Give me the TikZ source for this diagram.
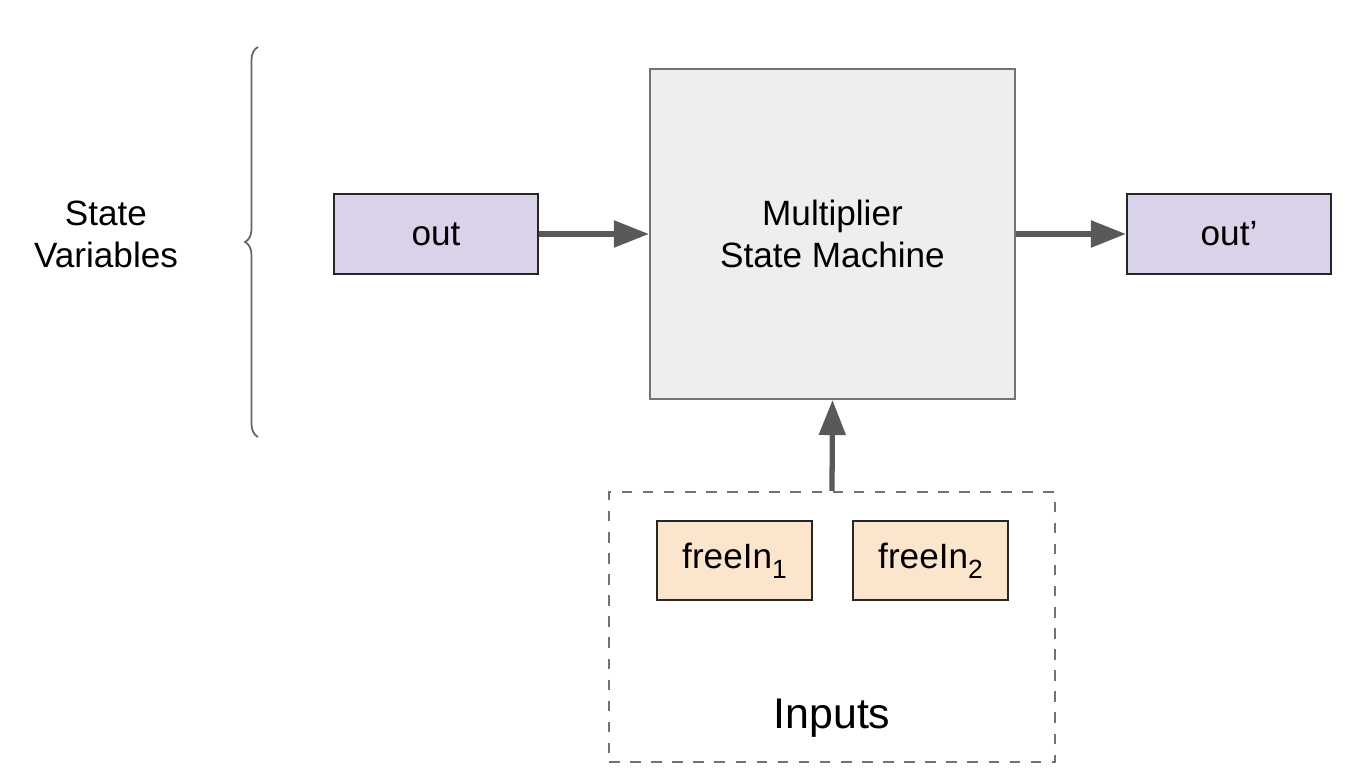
\documentclass[tikz,border=0pt]{standalone}
\usepackage{fontspec}
\setmainfont{Liberation Sans}
\usetikzlibrary{arrows.meta,decorations.pathreplacing}

\definecolor{varfill}{HTML}{D9D2E9}
\definecolor{infill}{HTML}{FCE5CD}
\definecolor{machfill}{HTML}{EEEEEE}
\definecolor{arrgray}{HTML}{595959}

\newcommand{\lowsub}[1]{\raisebox{-0.55ex}{\fontsize{7.5}{8}\selectfont #1}}

\begin{document}
\begin{tikzpicture}[
    varbox/.style={draw=black!85, line width=0.6pt, fill=varfill, minimum width=2.04cm, minimum height=0.8cm, inner sep=0pt, font=\fontsize{10}{12}\selectfont},
    inbox/.style={draw=black!85, line width=0.6pt, fill=infill, minimum width=1.55cm, minimum height=0.79cm, inner sep=0pt, font=\fontsize{10}{12}\selectfont},
    flow/.style={draw=arrgray, line width=1.5pt, -{Triangle[length=3.5mm,width=2.6mm]}}
]
    \useasboundingbox (0,0) rectangle (13.5,-7.77);

    % Maquina de estados
    \node[draw=black!55, line width=0.6pt, fill=machfill, minimum width=3.65cm, minimum height=3.3cm, inner sep=0pt,
          align=center, font=\fontsize{10}{12}\selectfont] (machine) at (8.325,-2.34) {Multiplier\\State Machine};

    % Variables de estado
    \node[varbox] (out) at (4.36,-2.34) {out};
    \node[varbox] (outp) at (12.29,-2.34) {out’};

    % Entradas
    \node[draw=black!55, dashed, line width=0.6pt, minimum width=4.46cm, minimum height=2.7cm, inner sep=0pt] (inputs) at (8.32,-6.27) {};
    \node[inbox] (free1) at (7.345,-5.605) {freeIn\lowsub{1}};
    \node[inbox] (free2) at (9.305,-5.605) {freeIn\lowsub{2}};
    \node[font=\fontsize{12.2}{14}\selectfont] (inlabel) at (8.32,-7.18) {Inputs};

    % Flechas
    \draw[flow] (out) -- (machine);
    \draw[flow] (machine) -- (outp);
    \draw[flow] (inputs.north) -- (machine.south);

    % Llave y etiqueta
    \draw[black!60, line width=0.5pt, decorate, decoration={brace, amplitude=0.13cm}] (2.58,-4.37) -- (2.58,-0.47);
    \node[align=center, font=\fontsize{10}{12}\selectfont] (statevars) at (1.06,-2.34) {State\\Variables};
\end{tikzpicture}
\end{document}
